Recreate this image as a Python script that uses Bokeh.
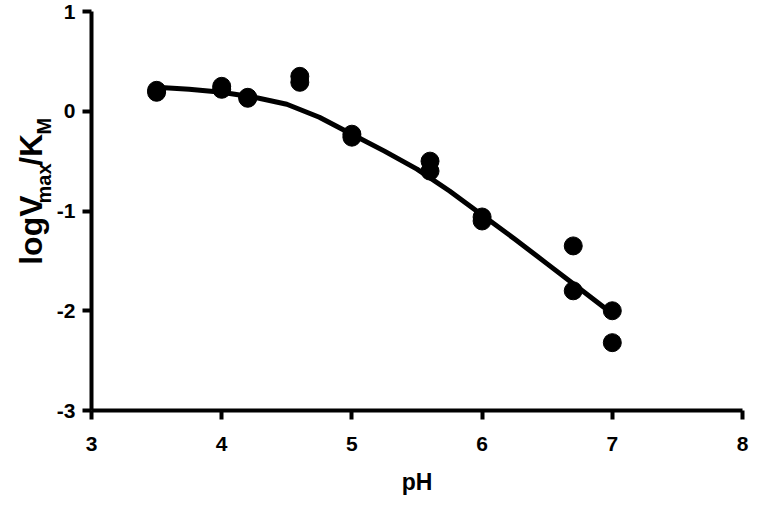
import math
from bokeh.plotting import figure
from bokeh.models import Range1d, FixedTicker
from bokeh.layouts import row
from bokeh.core.properties import value
from bokeh.embed import file_html
from bokeh.resources import INLINE

# ---- data ----
ph_points = [3.5, 3.5, 4.0, 4.0, 4.2, 4.2, 4.6, 4.6, 5.0, 5.0, 5.6, 5.6, 6.0, 6.0, 6.7, 6.7, 7.0, 7.0]
log_points = [0.19, 0.21, 0.22, 0.25, 0.13, 0.14, 0.35, 0.29, -0.23, -0.26, -0.50, -0.60, -1.06, -1.10, -1.35, -1.80, -2.00, -2.32]

fit_ph = [3.5, 3.75, 4.0, 4.25, 4.5, 4.75, 5.0, 5.25, 5.5, 5.75, 6.0, 6.25, 6.5, 6.75, 7.0]
fit_log = [0.24, 0.22, 0.19, 0.14, 0.07, -0.06, -0.23, -0.40, -0.58, -0.80, -1.04, -1.28, -1.53, -1.78, -2.03]

x_ticks = [3, 4, 5, 6, 7, 8]
y_ticks = [-3, -2, -1, 0, 1]
y_tick_labels = ["-3", "-2", "-1", "0", "1"]

y_label_parts = ["logV", "max", "/K", "M"]
x_label = "pH"

FONT = "Liberation Sans"
H = 497

# ---------- left strip holding the y-axis title ----------
LW = 53
lab = figure(width=LW, height=H, output_backend="svg", toolbar_location=None,
             x_range=Range1d(0, LW), y_range=Range1d(0, H),
             x_axis_type=None, y_axis_type=None,
             min_border_left=0, min_border_right=0, min_border_top=0, min_border_bottom=0)
lab.outline_line_color = None
lab.xgrid.visible = False
lab.ygrid.visible = False

main_fs, sub_fs = 32, 20
widths_em = [2.167, 2.0, 1.0, 0.833]
sizes = [main_fs, sub_fs, main_fs, sub_fs]
base_x = [30, 43, 30, 43]
gap = 7
total = sum(w * s for w, s in zip(widths_em, sizes)) + gap * 3
start = 226 + total / 2.0
for txt, w, s, bx in zip(y_label_parts, widths_em, sizes, base_x):
    lab.text(x=[bx], y=[H - start], text=[txt], angle=math.pi / 2,
             text_font=value(FONT), text_font_style="bold", text_font_size=value(f"{s}px"),
             text_align="left", text_baseline="alphabetic", text_color="black")
    start -= w * s + gap

# ---------- main plot ----------
MW = 750 - LW
p = figure(width=MW, height=H, output_backend="svg", toolbar_location=None,
           x_range=Range1d(3, 8), y_range=Range1d(-3, 1),
           min_border_left=36, min_border_right=8, min_border_top=11, min_border_bottom=85)
p.outline_line_color = None
p.xgrid.visible = False
p.ygrid.visible = False

for ax in (p.xaxis[0], p.yaxis[0]):
    ax.axis_line_width = 4
    ax.axis_line_color = "black"
    ax.major_tick_line_width = 4
    ax.major_tick_line_color = "black"
    ax.major_tick_out = 9
    ax.major_tick_in = 0
    ax.minor_tick_line_color = None
    ax.major_label_text_font = FONT
    ax.major_label_text_font_style = "bold"
    ax.major_label_text_font_size = "21px"
    ax.major_label_text_color = "black"

p.xaxis.ticker = FixedTicker(ticks=x_ticks)
p.yaxis.ticker = FixedTicker(ticks=y_ticks)
p.yaxis.major_label_overrides = {t: s for t, s in zip(y_ticks, y_tick_labels)}
p.xaxis.major_label_standoff = 17
p.yaxis.major_label_standoff = 7
p.xaxis.axis_label = x_label
p.xaxis.axis_label_text_font = FONT
p.xaxis.axis_label_text_font_style = "bold"
p.xaxis.axis_label_text_font_size = "23px"
p.xaxis.axis_label_text_color = "black"
p.xaxis.axis_label_standoff = 15

p.line(fit_ph, fit_log, line_width=5, line_color="black", line_join="round", line_cap="round")
p.scatter(ph_points, log_points, size=18, fill_color="black", line_color="black")

layout = row(lab, p)
open("out.html", "w").write(file_html(layout, INLINE))
